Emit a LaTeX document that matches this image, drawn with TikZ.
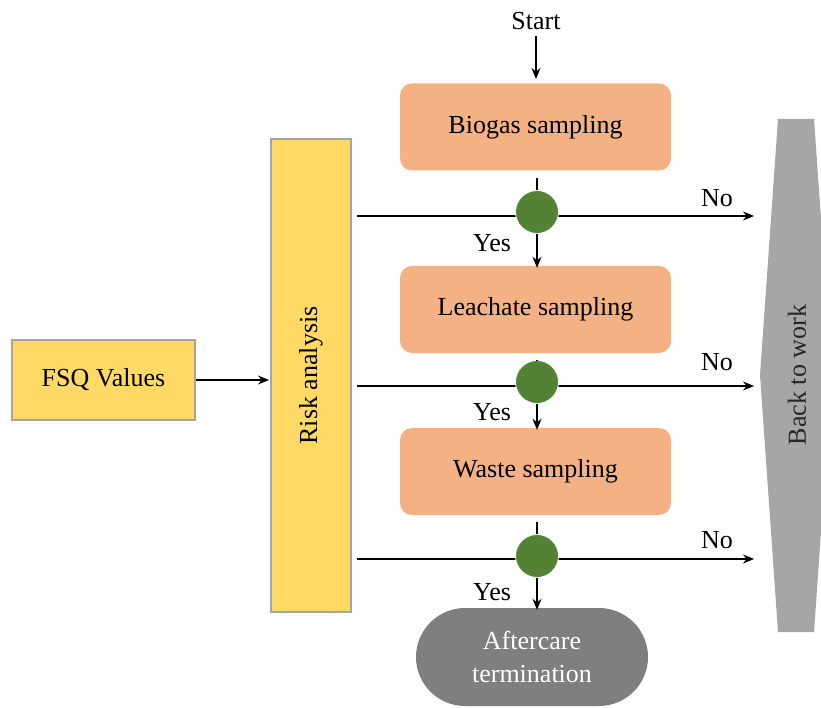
\documentclass[tikz,border=0pt]{standalone}
\usepackage{fontspec}
\setmainfont{Liberation Serif}
\usetikzlibrary{arrows.meta}
\definecolor{sampleorange}{HTML}{F4B183}
\definecolor{riskyellow}{HTML}{FFD966}
\definecolor{boxedge}{HTML}{A5A5A5}
\definecolor{decgreen}{HTML}{548235}
\definecolor{endgray}{HTML}{7F7F7F}
\definecolor{backgray}{HTML}{A6A6A6}
\tikzset{
  txt/.style={font=\fontsize{26}{31}\selectfont, inner sep=0pt},
  samplebox/.style={txt, fill=sampleorange, rounded corners=12pt,
    minimum width=271pt, minimum height=87pt},
  yellowbox/.style={txt, fill=riskyellow, draw=boxedge, line width=1.5pt},
  decision/.style={circle, fill=decgreen, draw=white, line width=0.8pt,
    minimum size=43pt, inner sep=0pt},
  arr/.style={line width=1.6pt, -{Stealth[length=11pt,width=9pt]}},
  ln/.style={line width=1.6pt},
}
\begin{document}
\begin{tikzpicture}[x=1pt,y=-1pt]
\useasboundingbox (0,0) rectangle (821,708);
\clip (0,0) rectangle (821,708);

% back-to-work band on the right edge
\filldraw[fill=backgray, draw=none] (778,119) -- (814,119) -- (832,375)
  -- (814,632) -- (778,632) -- (760,375) -- cycle;
\node[txt, rotate=90, text=black!85] (back) at (797,375) {Back to work};

% inputs and risk column
\node[yellowbox, minimum width=183pt, minimum height=80pt] (fsq) at (103.5,380) {FSQ Values};
\node[yellowbox, minimum width=80pt, minimum height=473pt] (risk) at (311,375.5) {};
\node[txt, rotate=90] at (risk.center) {Risk analysis};
\coordinate (riskin) at (269,380);
\draw[arr] (fsq.east) -- (riskin);

% sampling steps
\node[txt] (start) at (536,21) {Start};
\node[samplebox] (bio) at (535.5,127) {Biogas sampling};
\node[samplebox] (lea) at (535.5,309.5) {Leachate sampling};
\node[samplebox] (was) at (535.5,471.5) {Waste sampling};
\node[txt, fill=endgray, text=white, rounded corners=49pt, align=center,
  minimum width=232pt, minimum height=98pt] (after) at (532,657)
  {Aftercare\\[2pt]termination};

\coordinate (s0) at (536,36);
\coordinate (s1) at (536,79);
\draw[arr] (s0) -- (s1);

% decision rows: line through each junction out to the right
\coordinate (l1) at (357,216); \coordinate (r1) at (754,216);
\coordinate (l2) at (357,386); \coordinate (r2) at (754,386);
\coordinate (l3) at (357,559); \coordinate (r3) at (754,559);
\draw[arr] (l1) -- (r1);
\draw[arr] (l2) -- (r2);
\draw[arr] (l3) -- (r3);

\node[decision] (d1) at (537,212) {};
\node[decision] (d2) at (537,382) {};
\node[decision] (d3) at (537,556) {};

\draw[ln] ([yshift=-7pt]bio.south -| d1) -- (d1.north);
\draw[ln] ([yshift=-7pt]lea.south -| d2) -- (d2.north);
\draw[ln] ([yshift=-7pt]was.south -| d3) -- (d3.north);
\draw[arr] (d1.south) -- ([yshift=-2pt]lea.north -| d1);
\draw[arr] (d2.south) -- ([yshift=-2pt]was.north -| d2);
\draw[arr] (d3.south) -- ([yshift=-2pt]after.north -| d3);

\node[txt] (no1) at (717,198) {No};
\node[txt] (no2) at (717,362) {No};
\node[txt] (no3) at (717,540) {No};
\node[txt] (yes1) at (492,243) {Yes};
\node[txt] (yes2) at (492,412) {Yes};
\node[txt] (yes3) at (492,592) {Yes};
\end{tikzpicture}
\end{document}
